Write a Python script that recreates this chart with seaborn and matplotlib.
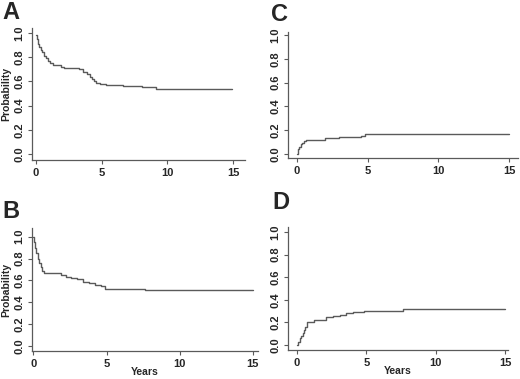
import numpy as np
import pandas as pd
import matplotlib
matplotlib.use("Agg")
import matplotlib.pyplot as plt
import seaborn as sns

# Step curves (years, probability)
a_years = [0, 0.05, 0.15, 0.25, 0.35, 0.45, 0.6, 0.75, 0.9, 1.1, 1.3, 1.9, 2.1, 3.3, 3.6,
           3.9, 4.1, 4.25, 4.4, 4.6, 4.9, 5.3, 6.6, 8.1, 9.1, 14.9]
a_prob = [0.98, 0.95, 0.91, 0.88, 0.86, 0.84, 0.81, 0.79, 0.77, 0.75, 0.735, 0.72, 0.71, 0.70, 0.68,
          0.66, 0.64, 0.62, 0.605, 0.59, 0.58, 0.57, 0.56, 0.55, 0.54, 0.54]

b_years = [0, 0.05, 0.1, 0.2, 0.3, 0.4, 0.5, 0.6, 0.75, 1.3, 1.9, 2.2, 2.6, 3.0, 3.4,
           3.8, 4.2, 4.6, 4.9, 7.6, 15.0]
b_prob = [1.0, 0.95, 0.9, 0.85, 0.80, 0.76, 0.72, 0.69, 0.67, 0.665, 0.65, 0.63, 0.62, 0.61, 0.59,
          0.575, 0.56, 0.545, 0.52, 0.51, 0.51]

c_years = [0, 0.05, 0.1, 0.15, 0.25, 0.35, 0.5, 0.65, 2.0, 3.0, 4.3, 4.5, 4.8, 15.0]
c_prob = [0.0, 0.02, 0.04, 0.06, 0.08, 0.095, 0.105, 0.115, 0.135, 0.14, 0.145, 0.155, 0.17, 0.17]

d_years = [0, 0.1, 0.2, 0.3, 0.4, 0.5, 0.6, 0.7, 1.2, 2.1, 2.6, 3.1, 3.5, 4.0, 4.8, 7.6, 15.0]
d_prob = [0.0, 0.03, 0.06, 0.08, 0.11, 0.13, 0.16, 0.2, 0.225, 0.245, 0.255, 0.265, 0.28, 0.29,
          0.305, 0.315, 0.315]

x_ticks = [0, 5, 10, 15]
y_ticks = [0.0, 0.2, 0.4, 0.6, 0.8, 1.0]

sns.set_style("ticks")
plt.rcParams['font.family'] = ['Liberation Sans', 'DejaVu Sans']

W, H = 520, 379
fig = plt.figure(figsize=(W / 100, H / 100), dpi=100)

# panel: (letter, letter px pos, years, prob, box px (left, right, top, bottom), xlim, ylim, ylabel, xlabel)
panels = [
    ("A", (2, 19), a_years, a_prob, (32, 245, 28, 160), (-0.3, 15.9), (-0.05, 1.041), True, False),
    ("B", (2, 218), b_years, b_prob, (32, 258, 228, 351), (-0.1, 15.35), (-0.046, 1.08), True, True),
    ("C", (271, 21), c_years, c_prob, (288, 518, 32, 158), (-0.64, 15.64), (-0.034, 1.025), False, False),
    ("D", (272, 209), d_years, d_prob, (288, 508, 227, 350), (-0.65, 15.2), (-0.044, 1.044), False, True),
]

grey = "#5a5a5a"
for letter, (lx, ly), yrs, prob, (l, r, t, b), xlim, ylim, ylab, xlab in panels:
    ax = fig.add_axes([l / W, (H - b) / H, (r - l) / W, (b - t) / H])
    df = pd.DataFrame({"Years": yrs, "Probability": prob})
    sns.lineplot(data=df, x="Years", y="Probability", ax=ax, drawstyle="steps-post",
                 color=grey, lw=1.0, estimator=None)
    ax.set_xlim(*xlim)
    ax.set_ylim(*ylim)
    ax.set_xticks(x_ticks)
    ax.set_yticks(y_ticks)
    ax.set_xticklabels([str(v) for v in x_ticks], fontsize=8, fontweight="bold")
    ax.set_yticklabels([f"{v:.1f}" for v in y_ticks], fontsize=8, fontweight="bold",
                       rotation=90, va="center")
    ax.tick_params(direction="out", length=3, width=0.8, color=grey, pad=2.5)
    for s in ["top", "right"]:
        ax.spines[s].set_visible(False)
    for s in ["left", "bottom"]:
        ax.spines[s].set_color(grey)
        ax.spines[s].set_linewidth(0.9)
    ax.set_ylabel("Probability" if ylab else "", fontsize=7.5, fontweight="bold", labelpad=2)
    ax.set_xlabel("Years" if xlab else "", fontsize=7.5, fontweight="bold", labelpad=-1.5)
    fig.text(lx / W, 1 - ly / H, letter, fontsize=17, fontweight="bold",
             ha="left", va="baseline")

fig.savefig("out.png", dpi=100)
